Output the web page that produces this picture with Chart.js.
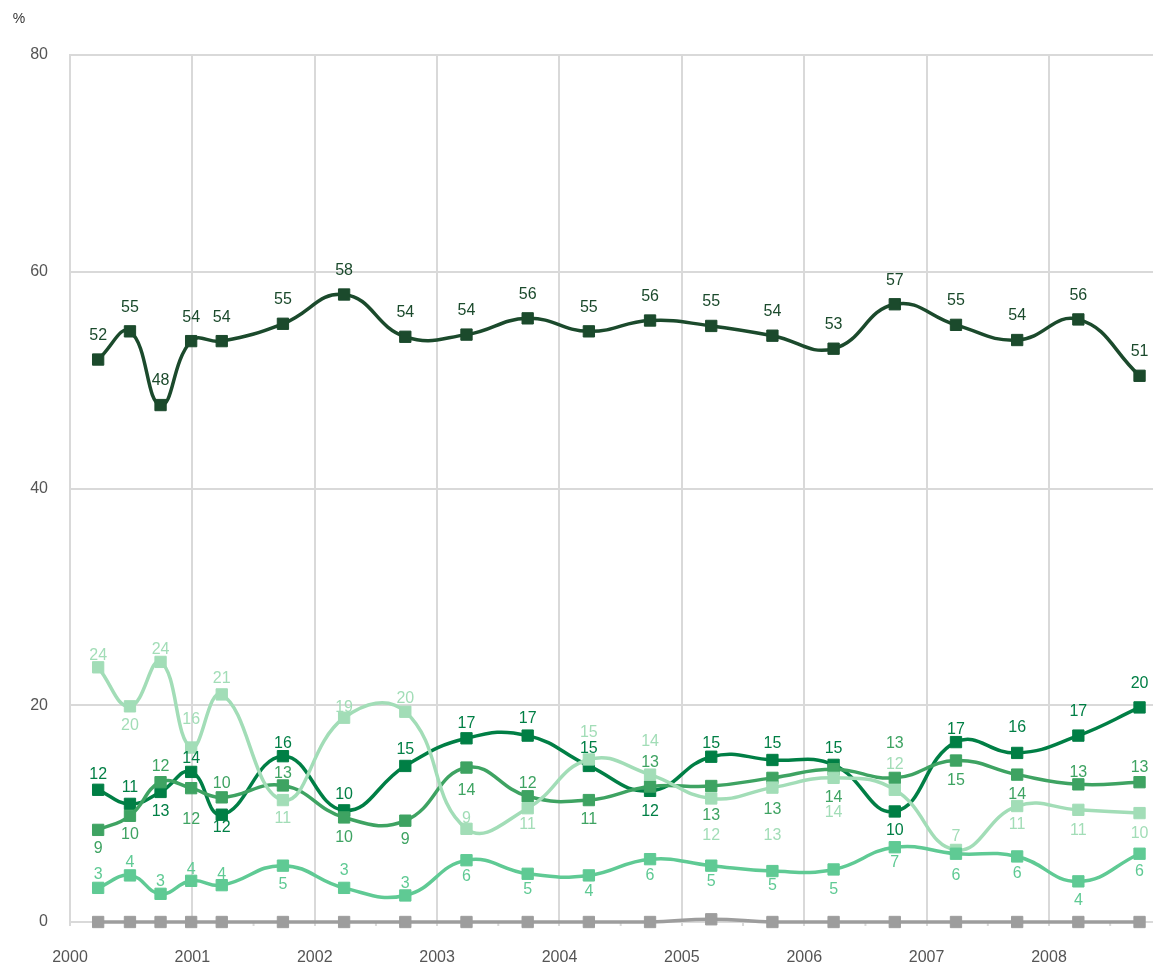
<!DOCTYPE html>
<html><head><meta charset="utf-8">
<script src="https://cdn.jsdelivr.net/npm/chart.js@4.4.1/dist/chart.umd.min.js"></script>
<style>html,body{margin:0;padding:0;background:#fff;overflow:hidden}#wrap{width:1153px;height:962px;position:relative}</style>
</head><body><div id="wrap"><canvas id="c"></canvas></div>
<script>
// Survey dates (decimal years)
const dates = [2000.23, 2000.49, 2000.74, 2000.99, 2001.24, 2001.74, 2002.24, 2002.74, 2003.24, 2003.74,
               2004.24, 2004.74, 2005.24, 2005.74, 2006.24, 2006.74, 2007.24, 2007.74, 2008.24, 2008.74];
const yearTicks = [2000, 2001, 2002, 2003, 2004, 2005, 2006, 2007, 2008];
const yTicks = [0, 20, 40, 60, 80];

// Series values (%)
const seriesTop   = [51.9, 54.5, 47.7, 53.6, 53.6, 55.2, 57.9, 54.0, 54.2, 55.7, 54.5, 55.5, 55.0, 54.1, 52.9, 57.0, 55.1, 53.7, 55.6, 50.4];
const seriesA     = [12.2, 10.9, 12.0, 13.85, 9.9, 15.3, 10.3, 14.4, 16.95, 17.2, 14.4, 12.1, 15.25, 14.95, 14.5, 10.2, 16.6, 15.6, 17.2, 19.8];
const seriesB     = [8.5, 9.8, 12.9, 12.35, 11.5, 12.6, 9.65, 9.35, 14.25, 11.6, 11.25, 12.5, 12.55, 13.3, 14.1, 13.3, 14.9, 13.6, 12.7, 12.9];
const seriesLight = [23.5, 19.9, 24.0, 16.1, 21.0, 11.25, 18.85, 19.4, 8.6, 10.5, 15.0, 13.6, 11.4, 12.4, 13.3, 12.2, 6.65, 10.7, 10.35, 10.05];
const seriesC     = [3.15, 4.3, 2.6, 3.8, 3.4, 5.2, 3.15, 2.45, 5.7, 4.45, 4.3, 5.8, 5.2, 4.7, 4.85, 6.9, 6.3, 6.05, 3.75, 6.3];
const seriesGray  = [0, 0, 0, 0, 0, 0, 0, 0, 0, 0, 0, 0, 0.25, 0, 0, 0, 0, 0, 0, 0];

// Printed value labels
const textTop   = ['52','55','48','54','54','55','58','54','54','56','55','56','55','54','53','57','55','54','56','51'];
const textA     = ['12','11','13','14','12','16','10','15','17','17','15','12','15','15','15','10','17','16','17','20'];
const textB     = ['9','10','12','12','10','13','10','9','14','12','11','13','13','13','14','13','15','14','13','13'];
const textLight = ['24','20','24','16','21','11','19','20','9','11','15','14','12','13','14','12','7','11','11','10'];
const textC     = ['3','4','3','4','4','5','3','3','6','5','4','6','5','5','5','7','6','6','4','6'];

// Label placement (style): pixels above (+) or below (-) the marker
const offTop   = Array(20).fill(25);
const offA     = [16,17,-19,14,-12,14,17,17,16,18,18,-20,14,17,17,-18,14,26,25,25];
const offB     = [-18,-18,17,-30,15,13,-19,-18,-22,14,-19,25,-29,-31,-27,35,-19,-19,13,16];
const offLight = [13,-18,13,29,17,-18,11,14,11,-15,28,34,-36,-47,-34,26,14,-18,-20,-20];
const offC     = [14,14,13,12,12,-18,18,13,-15,-15,-15,-15,-15,-14,-19,-14,-21,-16,-18,-17];

const pts = arr => arr.map((v, i) => ({x: dates[i], y: v}));
const FONT = '"Liberation Sans", Arial, Helvetica, sans-serif';

function ds(data, color, texts, offs) {
  return {
    data: pts(data), borderColor: color, backgroundColor: color,
    pointBackgroundColor: color, pointBorderColor: color,
    borderWidth: 3.5, pointStyle: 'rect', pointRadius: 8, pointBorderWidth: 1,
    pointHoverRadius: 8, tension: 0.45, clip: false,
    pointTexts: texts, pointOffsets: offs, labelColor: color
  };
}

const labelPlugin = {
  id: 'pointLabels',
  afterDatasetsDraw(chart) {
    const ctx = chart.ctx;
    ctx.save();
    ctx.font = '16px ' + FONT;
    ctx.textAlign = 'center';
    ctx.textBaseline = 'middle';
    chart.data.datasets.forEach((d, i) => {
      if (!d.pointTexts) return;
      const meta = chart.getDatasetMeta(i);
      meta.data.forEach((p, j) => {
        ctx.fillStyle = d.labelColor;
        ctx.fillText(d.pointTexts[j], p.x, p.y - d.pointOffsets[j] + 1);
      });
    });
    ctx.restore();
  }
};

const extrasPlugin = {
  id: 'extras',
  beforeDatasetsDraw(chart) {
    const ctx = chart.ctx, xs = chart.scales.x, area = chart.chartArea;
    ctx.save();
    ctx.strokeStyle = '#d9d9d9';
    ctx.lineWidth = 2;
    yearTicks.forEach(y => {
      const px = xs.getPixelForValue(y + 0.5);
      if (px > area.right) return;
      ctx.beginPath(); ctx.moveTo(px, area.bottom); ctx.lineTo(px, area.bottom + 4); ctx.stroke();
    });
    ctx.restore();
  },
  afterDraw(chart) {
    const ctx = chart.ctx;
    ctx.save();
    ctx.fillStyle = '#333';
    ctx.font = '14px ' + FONT;
    ctx.textAlign = 'center';
    ctx.textBaseline = 'middle';
    ctx.fillText('%', 19, 19);
    ctx.restore();
  }
};

new Chart(document.getElementById('c'), {
  type: 'line',
  data: {
    datasets: [
      ds(seriesGray, '#9d9d9d', null, null),
      ds(seriesC, '#5fca94', textC, offC),
      ds(seriesLight, '#a2ddb7', textLight, offLight),
      ds(seriesB, '#3ea362', textB, offB),
      ds(seriesA, '#007f45', textA, offA),
      ds(seriesTop, '#1b4a2c', textTop, offTop)
    ]
  },
  options: {
    responsive: true, maintainAspectRatio: false, animation: false,
    layout: {autoPadding: false, padding: {top: 55, right: 0, bottom: 0, left: 0}},
    plugins: {legend: {display: false}, tooltip: {enabled: false}},
    scales: {
      x: {
        type: 'linear', min: 2000, max: 2008.85,
        afterBuildTicks: s => { s.ticks = yearTicks.map(v => ({value: v})); },
        afterFit: s => { s.height = 40; s.paddingRight = 0; s.paddingLeft = 0; },
        grid: {color: '#d9d9d9', lineWidth: 2, drawTicks: true, tickLength: 4, tickColor: '#d9d9d9'},
        border: {display: true, color: '#d9d9d9', width: 2},
        ticks: {color: '#555', font: {size: 16, family: FONT}, padding: 22, maxRotation: 0, autoSkip: false,
                callback: v => String(v)}
      },
      y: {
        min: 0, max: 80,
        afterBuildTicks: s => { s.ticks = yTicks.map(v => ({value: v})); },
        afterFit: s => { s.width = 70; },
        grid: {color: '#d9d9d9', lineWidth: 2, drawTicks: false},
        border: {display: true, color: '#d9d9d9', width: 2},
        ticks: {color: '#555', font: {size: 16, family: FONT}, padding: 22}
      }
    }
  },
  plugins: [labelPlugin, extrasPlugin]
});
</script>
</body></html>
